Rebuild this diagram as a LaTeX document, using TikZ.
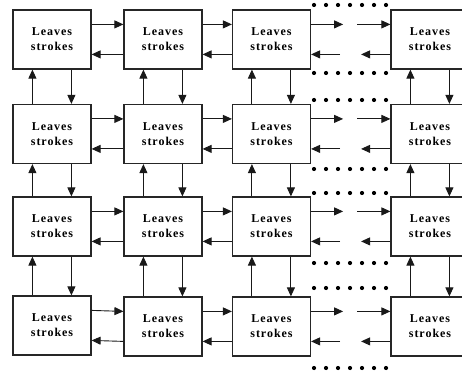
\documentclass[tikz,border=0pt]{standalone}
\usepackage{fontspec}
\setmainfont{Liberation Serif}[LetterSpace=8]
\usetikzlibrary{arrows.meta,calc}
\begin{document}
\begin{tikzpicture}[x=1pt,y=-1pt,
  box/.style={draw=black!85,line width=1.2pt,minimum width=78pt,minimum height=59pt,inner sep=0pt,align=center,
    font=\bfseries\fontsize{12}{15}\selectfont},
  arr/.style={line width=0.9pt,draw=black!90,-{Triangle[length=9pt,width=8pt]}},
  dot/.style={fill=black}]
\useasboundingbox (0,0) rectangle (462,371);
% boxes
\foreach \r/\y in {1/39.5,2/134,3/226.5}{
  \foreach \c/\x in {1/52,2/163,3/271.5,4/430}{
    \node[box] (n\r\c) at (\x,\y) {Leaves\\strokes};
  }
}
\node[box] (n41) at (52,325.5) {Leaves\\strokes};
\node[box] (n42) at (163,326.5) {Leaves\\strokes};
\node[box] (n43) at (271.5,326.5) {Leaves\\strokes};
\node[box] (n44) at (430,326.5) {Leaves\\strokes};
% horizontal arrows
\foreach \r in {1,2,3,4}{
  \foreach \c/\d in {1/2,2/3}{
    \draw[arr] ($(n\r\c.north east)+(0,15)$) -- ($(n\r\d.north west)+(0,15)$);
    \draw[arr] ($(n\r\d.north west)+(0,45)$) -- ($(n\r\c.north east)+(0,45)$);
  }
  \coordinate (ra\r) at ($(n\r3.north east)+(32,15)$);
  \coordinate (rb\r) at ($(n\r3.north east)+(46,15)$);
  \coordinate (la\r) at ($(n\r3.north east)+(50,45)$);
  \coordinate (lb\r) at ($(n\r3.north east)+(29,45)$);
  \draw[arr] ($(n\r3.north east)+(0,15)$) -- (ra\r);
  \draw[arr] (rb\r) -- ($(n\r4.north west)+(0,15)$);
  \draw[arr] ($(n\r4.north west)+(0,45)$) -- (la\r);
  \draw[arr] (lb\r) -- ($(n\r3.north east)+(0,45)$);
}
% vertical arrows
\foreach \r/\s in {1/2,2/3,3/4}{
  \foreach \c in {1,2,3,4}{
    \draw[arr] ($(n\s\c.north west)+(20,0)$) -- ($(n\r\c.south west)+(20,0)$);
    \draw[arr] ($(n\r\c.south west)+(59,0)$) -- ($(n\s\c.north west)+(59,0)$);
  }
}
% dotted continuation marks
\foreach \y in {5,73,100,169,193,263,288,368}{
  \foreach \k in {0,...,6}{
    \fill[dot] (314+12*\k,\y) circle (2.1pt);
  }
}
\end{tikzpicture}
\end{document}
